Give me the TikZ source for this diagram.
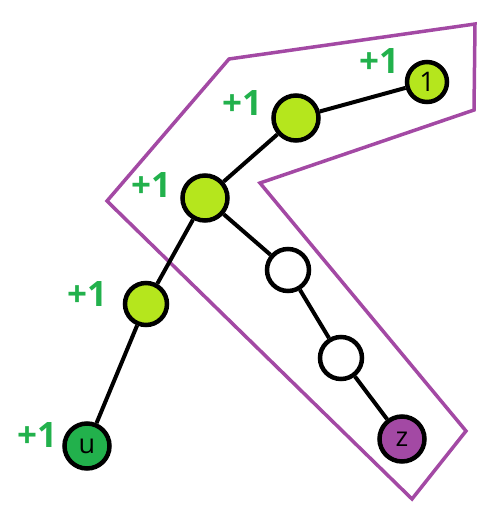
\documentclass[tikz,border=0pt]{standalone}
\usepackage{fontspec}
\setmainfont{Open Sans}
\definecolor{lime}{HTML}{B5E61D}
\definecolor{dgreen}{HTML}{22B14C}
\definecolor{purp}{HTML}{A349A4}
\begin{document}
\begin{tikzpicture}[x=1pt,y=-1pt,
  vtx/.style={circle,draw=black,line width=4.5pt,minimum size=45pt,inner sep=0pt,font=\fontsize{27}{27}\selectfont},
  plus/.style={text=dgreen,font=\fontsize{35}{35}\selectfont\bfseries}]
\useasboundingbox (0,0) rectangle (501,530);
\draw[purp,line width=3.5pt,line join=miter] (229,59) -- (475,24) -- (474,110) -- (260,183) -- (466,431) -- (412,499) -- (107,201) -- cycle;
\node[vtx,fill=lime,minimum size=40pt] (n1) at (427,82) {1};
\node[vtx,fill=lime] (a) at (296,118) {};
\node[vtx,fill=lime] (b) at (205,198) {};
\node[vtx,fill=lime,minimum size=42pt] (c) at (146,304) {};
\node[vtx,fill=dgreen] (u) at (87,446) {u};
\node[vtx,fill=white,minimum size=42pt] (w1) at (288,270) {};
\node[vtx,fill=white,minimum size=42pt] (w2) at (341,358) {};
\node[vtx,fill=purp] (z) at (402,439) {z};
\draw[line width=4pt] (n1) -- (a) (a) -- (b) (b) -- (c) (c) -- (u) (b) -- (w1) (w1) -- (w2) (w2) -- (z);
\node[plus] (p1) at (379,61) {+1};
\node[plus] (p2) at (242,103) {+1};
\node[plus] (p3) at (151,185) {+1};
\node[plus] (p4) at (87,294) {+1};
\node[plus] (p5) at (37,435) {+1};
\end{tikzpicture}
\end{document}
